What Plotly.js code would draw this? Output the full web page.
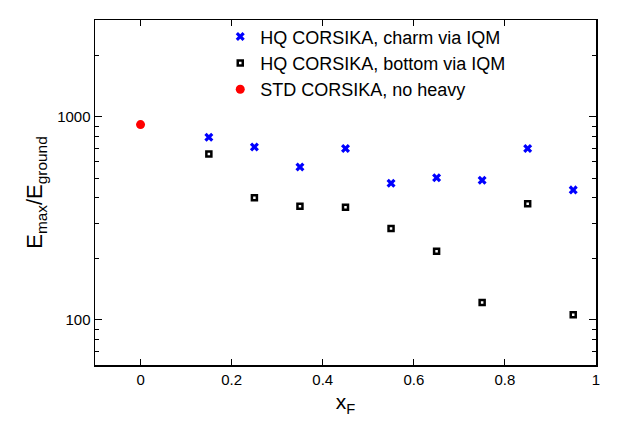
<!DOCTYPE html>
<html>
<head>
<meta charset="utf-8">
<script src="https://cdn.plot.ly/plotly-3.0.1.min.js"></script>
<style>html,body{margin:0;padding:0;background:#fff}#chart{width:627px;height:439px}</style>
</head>
<body>
<div id="chart"></div>
<script>
var xCharm = [0.15, 0.25, 0.35, 0.45, 0.55, 0.65, 0.75, 0.85, 0.95];
var yCharm = [793, 711, 567, 698, 471, 502, 487, 698, 437];
var xBottom = [0.15, 0.25, 0.35, 0.45, 0.55, 0.65, 0.75, 0.85, 0.95];
var yBottom = [657, 400, 363, 359, 282, 218, 122, 373, 106];
var xStd = [0];
var yStd = [916];
var seriesNames = ["HQ CORSIKA, charm via IQM", "HQ CORSIKA, bottom via IQM", "STD CORSIKA, no heavy"];
var xTicks = [0, 0.2, 0.4, 0.6, 0.8, 1];
var xTickText = ["0", "0.2", "0.4", "0.6", "0.8", "1"];
var yTicks = [100, 1000];
var yTickText = ["100", "1000"];

var traces = [
  {x: xCharm, y: yCharm, name: seriesNames[0], mode: "markers", type: "scatter",
   marker: {symbol: "x", size: 8, color: "#0000ff", line: {width: 0}}},
  {x: xBottom, y: yBottom, name: seriesNames[1], mode: "markers", type: "scatter",
   marker: {symbol: "square-open", size: 5, color: "#000000", line: {width: 2.5, color: "#000000"}}},
  {x: xStd, y: yStd, name: seriesNames[2], mode: "markers", type: "scatter",
   marker: {symbol: "circle", size: 9, color: "#ff0000"}}
];

var font = "Liberation Sans, Arial, Helvetica, sans-serif";
var layout = {
  width: 627, height: 439,
  margin: {l: 95, r: 31, t: 20, b: 74, pad: 0},
  paper_bgcolor: "#fff", plot_bgcolor: "#fff",
  font: {family: font, size: 15, color: "#000"},
  showlegend: true,
  legend: {x: 0.25, y: 1.005, xanchor: "left", yanchor: "top", bgcolor: "rgba(0,0,0,0)",
           font: {family: font, size: 18, color: "#000"}, tracegroupgap: 0, itemwidth: 30},
  xaxis: {
    range: [-0.1, 1], tickvals: xTicks, ticktext: xTickText,
    ticks: "inside", ticklen: 6, tickwidth: 1, tickcolor: "#000",
    showline: true, linecolor: "#000", linewidth: 1.5, mirror: "allticks",
    showgrid: false, zeroline: false,
    tickfont: {family: font, size: 15},
    title: {text: "x<sub>F</sub>", font: {family: font, size: 21}, standoff: 8}
  },
  yaxis: {
    type: "log", range: [Math.log10(60), Math.log10(3000)],
    tickvals: yTicks, ticktext: yTickText,
    ticks: "inside", ticklen: 7, tickwidth: 1, tickcolor: "#000",
    minor: {ticks: "inside", ticklen: 4, tickcolor: "#000", tickwidth: 1, dtick: "D1", showgrid: false},
    showline: true, linecolor: "#000", linewidth: 1.5, mirror: "allticks",
    showgrid: false, zeroline: false,
    tickfont: {family: font, size: 15},
    title: {text: "E<sub>max</sub>/E<sub>ground</sub>", font: {family: font, size: 22}, standoff: 8}
  }
};
Plotly.newPlot("chart", traces, layout, {displayModeBar: false, staticPlot: true});
</script>
</body>
</html>
